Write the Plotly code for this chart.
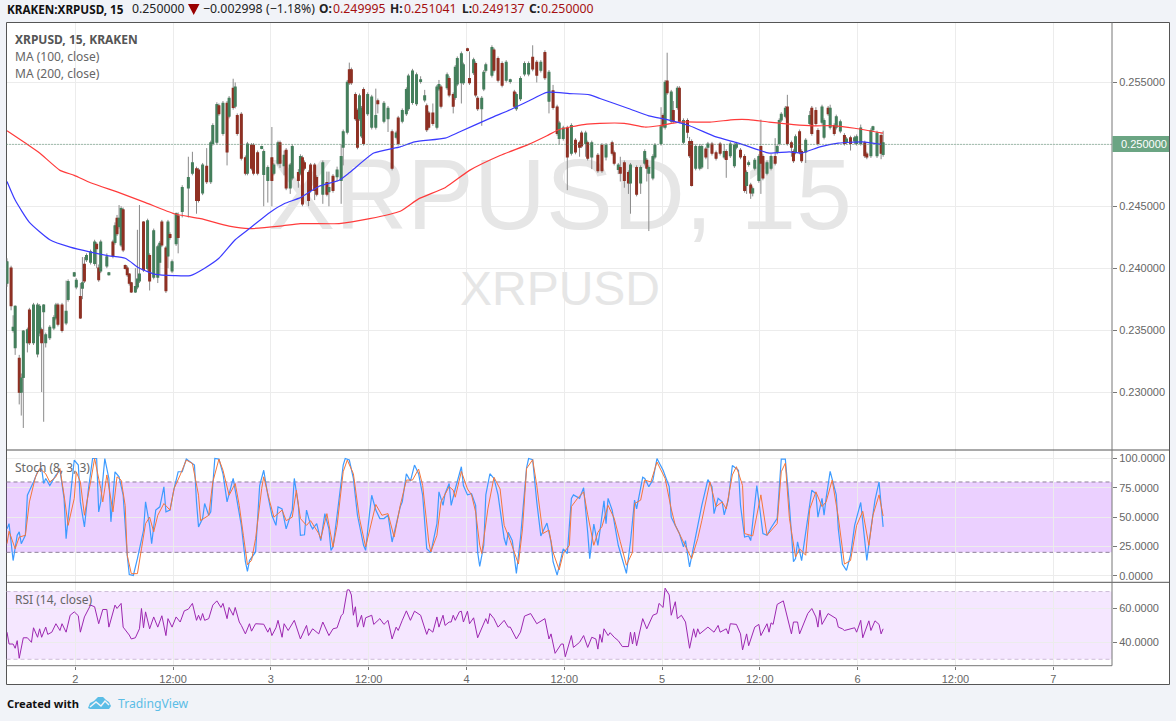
import plotly.graph_objects as go

W, H = 1176, 721
FONT = "Noto Sans"
AXF = "Liberation Sans"

# ---------- price data, in units of 0.0001 ----------
bars = [0,2,3,4,6,7,8,10,11,13, 15,16,17,18,19,21,23,24,25,27, 29,30,33,34,36,37,38,39,41,43,
 44,45,46,49,50,52,53,54,55,56, 57,58,59,60,61,63,64,65,67,69, 70,72,74,75,76,78,79,80,81,83,
 84,86,89,91,93,94,96,98,100,101, 103,104,106,108,109,111,112,113,115,117, 118,120,121,123,125,126,128,130,131,133,
 134,136,137,139,140,143,144,145,146,148, 149,151,152,155,157,158,160,162,164,165, 167,168,169,171,172,173,174,175,177,179,
 181,182,185,187,189,191,192,194,196,197, 199,201,203,205,206,207,209,211,212,213, 216,217,219,220,221,223,224,226,227,229,
 230,231,233,234,235,238,239,241,243,245, 247,249,250,252,254,256,258,260,262,264, 266,268,270,271,273,275,277,279,281,282,
 284,285,287,290,292,294,297,298,300,301, 303,305,306,309,311,313,314,315,317,318, 321,322,323,324,326,327,329,330,332,334,
 335,336,338,340,341,343,344,346,348,350, 352,353,355,357,358,360,362,363,364,365, 366,367,369,370,371,373,375,377,378,379,
 380,382,383,385,386,387,389,390,392,394, 395,397,398,400,401,403,404,406,407,409, 411,412,414,416,417,419,421,422,424,425,
 427,429,430]
opens_e4 = [2388,2400,2350,2336,2327,2300,2312,2340,2366,2340,
 2331,2348,2350,2365,2340,2344,2352,2360,2370,2370,
 2356,2375,2394,2385,2377,2384,2403,2407,2405,2404,
 2419,2400,2398,2402,2395,2421,2421,2440,2434,2419,
 2447,2402,2400,2395,2388,2381,2385,2390,2437,2400,
 2410,2393,2393,2405,2437,2416,2410,2427,2398,2420,
 2442,2446,2465,2477,2480,2479,2461,2482,2470,2501,
 2502,2531,2509,2533,2523,2545,2531,2523,2524,2489,
 2477,2499,2499,2493,2497,2476,2471,2489,2477,2485,
 2501,2483,2495,2465,2473,2477,2477,2489,2485,2477,
 2483,2483,2473,2460,2469,2462,2474,2474,2471,2498,
 2510,2560,2560,2540,2527,2521,2507,2544,2525,2514,
 2514,2535,2519,2521,2510,2506,2521,2519,2525,2529,
 2534,2533,2551,2536,2531,2525,2525,2514,2545,2546,
 2546,2553,2540,2538,2549,2550,2550,2577,2553,2558,
 2565,2537,2529,2545,2560,2556,2576,2569,2565,2552,
 2551,2542,2529,2537,2557,2557,2570,2566,2560,2574,
 2535,2543,2530,2505,2505,2513,2493,2503,2501,2509,
 2501,2501,2490,2491,2499,2490,2501,2493,2480,2481,
 2485,2477,2469,2481,2469,2485,2487,2477,2473,2490,
 2501,2523,2514,2551,2519,2527,2530,2545,2502,2519,
 2502,2502,2481,2481,2482,2496,2498,2500,2493,2500,
 2490,2494,2491,2483,2498,2495,2490,2467,2484,2467,
 2461,2481,2471,2498,2490,2477,2481,2490,2494,2501,
 2520,2523,2530,2501,2494,2494,2510,2494,2494,2517,
 2529,2527,2511,2518,2506,2529,2514,2515,2514,2511,
 2507,2502,2505,2503,2501,2501,2501,2492,2491,2512,
 2491,2507,2492]
highs_e4 = [2408,2402,2362,2370,2330,2315,2350,2352,2368,2372,
 2372,2371,2352,2371,2348,2354,2362,2372,2372,2372,
 2390,2391,2397,2392,2388,2409,2409,2412,2415,2423,
 2421,2403,2423,2412,2397,2423,2437,2443,2451,2450,
 2449,2403,2402,2396,2389,2400,2431,2451,2438,2440,
 2412,2432,2419,2422,2439,2418,2439,2429,2407,2445,
 2445,2467,2490,2494,2482,2481,2485,2497,2503,2517,
 2534,2533,2535,2535,2539,2553,2550,2525,2526,2491,
 2502,2501,2501,2495,2499,2496,2483,2514,2485,2503,
 2503,2495,2497,2485,2500,2480,2492,2491,2487,2479,
 2485,2485,2475,2487,2478,2478,2476,2482,2500,2512,
 2552,2566,2562,2542,2529,2541,2531,2546,2542,2540,
 2545,2537,2535,2531,2512,2511,2523,2529,2546,2557,
 2561,2558,2555,2544,2533,2527,2533,2548,2552,2548,
 2558,2555,2542,2564,2571,2575,2566,2578,2575,2570,
 2567,2539,2539,2560,2566,2580,2578,2571,2567,2568,
 2553,2544,2542,2555,2567,2567,2580,2568,2568,2576,
 2560,2548,2532,2519,2515,2515,2517,2505,2503,2511,
 2511,2503,2503,2493,2501,2501,2503,2495,2485,2490,
 2487,2479,2485,2483,2483,2496,2489,2483,2492,2501,
 2530,2525,2552,2574,2544,2535,2547,2547,2521,2521,
 2506,2504,2500,2500,2500,2498,2502,2502,2495,2502,
 2500,2496,2502,2501,2502,2497,2492,2479,2487,2469,
 2466,2489,2492,2520,2492,2487,2492,2505,2500,2521,
 2526,2531,2540,2503,2496,2508,2512,2496,2505,2527,
 2531,2530,2513,2532,2521,2531,2532,2517,2524,2520,
 2509,2506,2507,2507,2508,2516,2503,2494,2513,2515,
 2511,2509,2511]
lows_e4 = [2385,2366,2348,2330,2290,2281,2271,2332,2338,2338,
 2328,2345,2300,2276,2336,2342,2350,2358,2353,2348,
 2354,2373,2393,2383,2359,2375,2388,2405,2403,2402,
 2400,2389,2396,2400,2394,2408,2419,2426,2432,2417,
 2413,2399,2393,2386,2380,2380,2383,2388,2397,2398,
 2382,2391,2388,2395,2417,2380,2400,2423,2396,2418,
 2412,2441,2441,2475,2444,2453,2459,2468,2468,2499,
 2500,2523,2507,2483,2521,2528,2529,2507,2487,2475,
 2475,2479,2475,2475,2496,2450,2453,2450,2475,2483,
 2481,2475,2463,2460,2471,2465,2475,2450,2479,2450,
 2461,2455,2458,2452,2458,2450,2461,2470,2452,2483,
 2508,2548,2548,2519,2496,2519,2505,2499,2523,2512,
 2512,2525,2517,2510,2479,2504,2499,2517,2523,2527,
 2532,2531,2549,2534,2510,2512,2515,2512,2543,2529,
 2544,2538,2525,2536,2547,2533,2548,2575,2548,2556,
 2538,2527,2515,2543,2558,2554,2558,2550,2546,2550,
 2549,2529,2527,2535,2555,2555,2559,2550,2558,2552,
 2525,2528,2507,2500,2503,2463,2491,2492,2490,2497,
 2490,2487,2480,2477,2477,2487,2491,2483,2476,2470,
 2465,2460,2444,2458,2460,2483,2470,2430,2471,2488,
 2499,2513,2512,2540,2517,2517,2528,2517,2500,2505,
 2489,2466,2479,2479,2480,2488,2480,2491,2487,2491,
 2488,2473,2489,2481,2496,2488,2461,2460,2482,2456,
 2458,2479,2469,2460,2471,2475,2479,2483,2492,2499,
 2518,2521,2499,2490,2485,2492,2492,2485,2485,2515,
 2507,2515,2499,2516,2504,2523,2512,2507,2512,2509,
 2499,2500,2495,2500,2499,2499,2489,2488,2489,2510,
 2489,2488,2490]
closes_e4 = [2405,2370,2352,2369,2300,2311,2349,2350,2340,2370,
 2370,2369,2340,2370,2346,2352,2360,2370,2355,2350,
 2365,2389,2396,2390,2360,2388,2390,2410,2413,2421,
 2416,2391,2421,2409,2396,2410,2434,2428,2440,2448,
 2415,2400,2395,2388,2381,2385,2391,2395,2399,2438,
 2390,2430,2417,2420,2419,2382,2437,2425,2405,2444,
 2425,2465,2473,2485,2455,2455,2483,2470,2501,2515,
 2532,2525,2533,2494,2537,2530,2546,2509,2489,2477,
 2500,2481,2477,2477,2498,2494,2481,2471,2483,2501,
 2485,2491,2465,2483,2498,2471,2490,2452,2481,2455,
 2463,2463,2460,2485,2460,2465,2463,2479,2490,2510,
 2550,2550,2550,2521,2498,2539,2529,2501,2540,2538,
 2523,2533,2533,2529,2481,2509,2501,2527,2544,2555,
 2559,2556,2552,2539,2512,2514,2517,2546,2548,2531,
 2556,2540,2531,2562,2569,2573,2564,2576,2550,2568,
 2540,2529,2537,2558,2564,2578,2560,2552,2548,2566,
 2552,2531,2540,2553,2565,2565,2561,2556,2566,2554,
 2558,2530,2509,2517,2513,2490,2515,2494,2498,2499,
 2509,2489,2501,2479,2479,2499,2493,2485,2483,2477,
 2471,2469,2483,2460,2481,2494,2481,2481,2490,2499,
 2514,2515,2550,2542,2542,2519,2545,2519,2519,2510,
 2491,2467,2498,2498,2498,2490,2500,2493,2489,2493,
 2494,2488,2500,2499,2500,2490,2463,2477,2485,2461,
 2464,2487,2490,2485,2473,2485,2490,2485,2498,2519,
 2524,2529,2501,2498,2487,2506,2494,2487,2503,2523,
 2509,2517,2501,2530,2519,2525,2529,2509,2522,2518,
 2501,2504,2501,2505,2506,2513,2491,2490,2511,2514,
 2509,2493,2501]

ma100_bars = [0,4,11,21,31,41,50,58,65,73,82,90,97,104,112,119,129,136,144,153,163,168,180,193,200,215,222,237,247,256,265,276,286,291,305,315,324,335,348,359,368,374,384,390,399,408,420,429]
ma100_e4 = [2470,2455,2437,2423,2417,2413,2410,2408,2400,2395,2394,2394,2400,2408,2423,2432,2445,2452,2457,2466,2471,2477,2493,2498,2502,2505,2510,2521,2528,2535,2542,2541,2540,2537,2529,2523,2520,2515,2506,2501,2496,2493,2494,2493,2498,2501,2502,2500]
ma200_bars = [0,9,16,26,33,41,55,68,82,95,109,119,134,144,163,178,193,202,215,227,242,256,265,271,283,291,303,313,320,330,345,357,364,374,386,396,406,416,430]
ma200_e4 = [2511,2501,2493,2479,2475,2469,2461,2453,2444,2440,2434,2432,2434,2436,2436,2440,2446,2456,2465,2479,2491,2500,2507,2512,2516,2517,2517,2514,2515,2518,2518,2520,2520,2518,2516,2515,2515,2513,2509]

stoch_k_bars = [0,1,3,5,6,7,9,10,13,15,17,18,19,21,24,26,28,29,31,33,35,36,38,40,42,44,45,46,48,50,51,53,55,57,59,60,62,64,67,68,70,71,73,75,77,78,80,82,84,86,88,90,92,93,94,96,97,99,100,102,104,106,108,111,113,115,117,118,119,121,122,124,126,128,130,132,133,135,137,140,141,143,144,146,147,149,150,152,154,156,158,159,160,162,165,166,168,170,172,175,176,178,179,181,183,185,187,189,191,193,194,196,198,200,202,204,206,208,211,212,214,215,217,
 218,220,222,223,224,226,228,230,231,232,234,235,237,239,241,244,245,246,248,250,252,255,256,258,260,262,265,267,268,270,273,275,277,278,281,283,285,286,288,290,291,293,294,295,297,300,304,306,308,309,312,313,315,317,319,322,325,326,328,330,332,333,335,338,341,344,346,347,349,351,352,354,356,359,360,362,364,365,368,371,373,375,378,380,382,384,386,387,388,390,393,395,397,398,400,401,402,404,407,408,410,412,414,416,419,422,424,426,428,430]
stoch_k = [40,44.5,13,34.5,37.4,27.4,34.5,68.7,80,88.7,91.5,78.7,83,77,85.8,90,66,31.7,66,98.7,94.4,63,41.7,74.4,100,100,54.5,63,100,83,46,88.7,84.4,68.7,17.5,1,0.3,14.6,38.8,63,43,27.4,56,58.8,75.9,54.5,56,74.4,88.7,88.7,99.5,97,94.4,63,41.7,48.8,61.6,51.6,54.5,100,99.5,87,63,83,63,43,12,3.8,13,17.5,20.3,77,90,68.7,51.6,43,58.8,57,40,56,83,60,34.5,35,56,43,40,44.5,30,53,40,21.7,24.6,51.6,94.4,100,98.7,83,51.6,26,21.7,54.5,68.7,56,48.8,48.8,51.6,28.8,43,58.8,63,87,80.7,94.4,87,68.7,23,19.7,44.5,71.6,60,70,78.7,
 60,74,87,93,77,69,70,60,20,8,26,69,87,83,69,32,26,37,30,2,32,92,100,99,63,34,45,29,12,0.5,23,19,66,69,66,75,37,14.6,44,26,38,64,44.5,66,56,26,2,29,64.5,57,84,83,76,81.6,100,90,76,50,43,36,24.6,30,7.5,33,60,82,76,53,66,63,52,64.5,94,90,60,33,34,30,77,36,34.5,41,49,99.5,99.5,60,12,14.6,29,13,51.6,73,70,50,66,51.6,66,89,69,40,10,4.6,17.5,43,62.5,13,40,64.5,80,41.7]
stoch_d_bars = [0,1,4,6,9,11,14,16,19,21,24,26,28,30,33,34,36,38,41,43,46,47,49,52,54,56,58,59,61,64,66,68,70,72,74,77,80,82,85,88,91,94,95,99,101,104,106,109,112,114,116,118,120,122,125,126,129,131,135,137,140,142,144,147,149,153,154,157,160,162,165,167,170,173,176,179,181,184,187,190,193,196,199,202,204,207,208,211,213,217,
 219,220,223,226,228,230,232,233,236,239,242,244,247,251,253,255,258,260,263,266,268,271,273,276,277,280,283,285,288,290,292,295,298,301,304,307,308,311,313,316,319,323,326,328,331,334,336,339,341,345,348,351,353,356,358,361,362,366,370,373,378,380,382,384,387,389,392,394,397,400,402,405,408,411,414,417,420,423,425,428,430]
stoch_d = [27.4,38,23,33,34.5,63,84.4,91.5,87,80,84.4,91.5,68.7,43,66,88.7,80,51.6,80,100,74.4,63,86,54.5,84.4,81.6,60,17.5,1.8,1.8,23,44.5,50,37.4,51.6,61.6,56,74.4,86,98.7,95.8,68.7,47,51.6,80,99.5,90,68.7,78.7,60,34.5,9.5,13,31.7,74.4,84.4,63,50,56,47,50,73,48.8,43,47,36,31.7,53,24.6,43,88.7,98.7,87,48.8,24.6,47,60.8,51.6,53,33,60,81.6,81.6,91,77,28.8,20.3,34.5,63,76,
 73,67,89,74,69,54.5,26,19,57,84,74,43,30,10,40,91.5,99,77,36,39,20,5,19,26,59,66,71.6,52,26,37,42,60,49,29,9,20,61.6,64.5,81.6,80,97,83,57,43,31.7,21.7,14.6,31.7,47,80,59,63,57,86,93,77,36,34,69,34.5,44.5,88.7,96,49,16,23,17.5,57,71.6,59,63,81.6,50,10,13,43,55,26,51.6,69,51]

rsi_bars = [0,1,3,4,5,6,8,10,12,13,15,16,17,19,20,22,24,26,27,29,31,33,35,36,38,41,43,45,47,49,50,53,54,56,57,60,61,63,65,66,67,68,70,72,74,76,78,79,81,83,85,87,89,91,93,94,95,96,97,99,101,103,105,106,108,109,111,112,114,115,117,119,120,122,126,128,129,130,132,133,135,136,138,141,144,147,148,150,153,155,158,160,162,164,165,167,168,169,170,171,172,174,175,176,179,180,183,185,187,189,191,192,194,196,198,200,203,206,207,209,211,212,214,215,217,
 218,219,220,222,223,224,226,227,229,231,233,235,236,237,239,241,244,246,247,250,252,254,257,259,260,264,266,267,269,272,273,274,277,278,281,283,285,287,289,290,291,292,293,295,296,298,300,302,305,306,307,308,309,312,314,317,319,320,322,323,325,326,328,329,331,333,335,337,338,339,340,344,347,349,350,353,354,355,358,360,361,363,364,367,369,370,373,374,375,376,378,381,384,385,386,388,389,393,395,397,398,399,400,403,407,408,410,411,416,417,419,420,423,424,426,428,429,430]
rsi_vals = [46,39,39,36.5,41,30.6,42.7,42.7,40,48.6,43,48,43,49,44.7,46,51,47,51,46,56,58,55.7,46,55,62,61,51,59.4,59.4,49,62,60,63,49,44.3,42,42.7,48,60,48.6,58,48,55,49,55.7,44,54,49,55,52,58.6,59.6,63,53,56,53,57,53,54,62,64.5,60.6,63,54,60.6,56,60.6,52,50,45,51,46.6,51,50.7,46,48.6,44,48.6,53,43,51,47,53,42,50,44,48,45,52,44,48,48.6,55.7,57,71,71,68,56,61,49,56,49,54.5,56,50.6,54,50.6,53,42,49,47,53,58.6,53,58.4,56,44.7,48,46,55,49,56,50,52,
 52,56,53,58,58.4,52,58.4,51,54.5,42.7,48,54,51,57,54,49,53,49,49,42,46,55.5,57,53,51,54,42,45,33.5,39,39,31.5,44,37,40,44,37,43,42,36,44.7,40,48,44,45.7,43,41,37.5,37.5,46,39,46,38,54,48,56,57,63,60.6,72,68,56,64,54,56,52,36.5,48,43,48,45,49,46,50,46,48,45,51,50.6,45,35.5,45,38,49,50.6,44,51,46,51.5,50.6,62.4,64.5,51,45,52,52,45,57,60,55,49,59,50.6,57,54,49,48,47,48.6,46,53,42.7,52.7,47,52.7,50.6,45,48]
assert len(opens_e4)==len(bars)==len(highs_e4)==len(lows_e4)==len(closes_e4)
assert len(ma100_bars)==len(ma100_e4) and len(ma200_bars)==len(ma200_e4)
assert len(stoch_k_bars)==len(stoch_k), (len(stoch_k_bars),len(stoch_k))
assert len(stoch_d_bars)==len(stoch_d), (len(stoch_d_bars),len(stoch_d))
assert len(rsi_bars)==len(rsi_vals), (len(rsi_bars),len(rsi_vals))

last_price = 0.25
price_ticks = [0.23, 0.235, 0.24, 0.245, 0.25, 0.255]
price_labels = ["0.230000", "0.235000", "0.240000", "0.245000", "", "0.255000"]
stoch_ticks = [0, 25, 50, 75, 100]
stoch_labels = ["0.0000", "25.0000", "50.0000", "75.0000", "100.0000"]
rsi_ticks = [40, 60]
rsi_labels = ["40.0000", "60.0000"]
time_ticks = [33.5, 81.5, 129.5, 177.5, 225.5, 273.5, 321.5, 369.5, 417.5, 465.5, 513.5]
time_labels = ["2", "12:00", "3", "12:00", "4", "12:00", "5", "12:00", "6", "12:00", "7"]

opens = [v / 1e4 for v in opens_e4]
highs = [v / 1e4 for v in highs_e4]
lows = [v / 1e4 for v in lows_e4]
closes = [v / 1e4 for v in closes_e4]
body_hi = [max(a, b) for a, b in zip(opens, closes)]
body_lo = [min(a, b) for a, b in zip(opens, closes)]

def px(x): return x / W
def py(y): return 1 - y / H
L, R = 6.5, 1112
XR = [-0.25, -0.25 + (R - L) / 2.0375]
GRID = "#ececec"

fig = go.Figure()
fig.add_trace(go.Scatter(x=[271.4], y=[0.24516], mode="text", text=["XRPUSD, 15"], xaxis="x", yaxis="y",
                         textfont=dict(family=AXF, size=100, color="#e6e6e6"), hoverinfo="skip", showlegend=False, cliponaxis=False))
fig.add_trace(go.Scatter(x=[271.4], y=[0.23798], mode="text", text=["XRPUSD"], xaxis="x", yaxis="y",
                         textfont=dict(family=AXF, size=48, color="#e6e6e6"), hoverinfo="skip", showlegend=False, cliponaxis=False))

wick = "#8a8a8a"
fig.add_trace(go.Candlestick(x=bars, open=opens, high=highs, low=lows, close=closes, xaxis="x2", yaxis="y2", whiskerwidth=0,
                             increasing=dict(line=dict(color=wick, width=1), fillcolor=wick),
                             decreasing=dict(line=dict(color=wick, width=1), fillcolor=wick),
                             hoverinfo="skip", showlegend=False))
fig.add_trace(go.Candlestick(x=bars, open=opens, high=body_hi, low=body_lo, close=closes, xaxis="x2", yaxis="y2", whiskerwidth=0,
                             increasing=dict(line=dict(color="#447f5c", width=1.6), fillcolor="#528f6b"),
                             decreasing=dict(line=dict(color="#8f3023", width=1.6), fillcolor="#ab3a2b"),
                             hoverinfo="skip", showlegend=False))
fig.add_trace(go.Scatter(x=ma200_bars, y=[v / 1e4 for v in ma200_e4], mode="lines", xaxis="x2", yaxis="y2",
                         line=dict(color="#ff3b3b", width=1.2, shape="spline", smoothing=0.5), hoverinfo="skip", showlegend=False))
fig.add_trace(go.Scatter(x=ma100_bars, y=[v / 1e4 for v in ma100_e4], mode="lines", xaxis="x2", yaxis="y2",
                         line=dict(color="#3b3bff", width=1.2, shape="spline", smoothing=0.5), hoverinfo="skip", showlegend=False))
fig.add_trace(go.Scatter(x=stoch_k_bars, y=stoch_k, mode="lines", xaxis="x3", yaxis="y3",
                         line=dict(color="#3d9bff", width=1.2), hoverinfo="skip", showlegend=False))
fig.add_trace(go.Scatter(x=stoch_d_bars, y=stoch_d, mode="lines", xaxis="x3", yaxis="y3",
                         line=dict(color="#f5763a", width=1), hoverinfo="skip", showlegend=False))
fig.add_trace(go.Scatter(x=rsi_bars, y=rsi_vals, mode="lines", xaxis="x4", yaxis="y4",
                         line=dict(color="#9c27b0", width=1), hoverinfo="skip", showlegend=False))

xcommon = dict(range=XR, domain=[px(L), px(R)], tickmode="array", tickvals=time_ticks, showgrid=True,
               gridcolor=GRID, gridwidth=1, zeroline=False, showline=False, fixedrange=True, rangeslider=dict(visible=False))
axf = dict(family=AXF, size=11, color="#666666")
ycommon = dict(side="right", showgrid=True, gridcolor=GRID, gridwidth=1, zeroline=False, showline=False, fixedrange=True,
               tickmode="array", ticks="outside", ticklen=4, tickcolor="#777777", tickfont=axf)
dom_main = [py(450), py(22.5)]
dom_st = [py(582.3), py(450)]
dom_rsi = [py(665.7), py(582.3)]
yr_main = [0.22532, 0.25984]
fig.update_layout(
    width=W, height=H, margin=dict(l=0, r=0, t=0, b=0), autosize=False,
    paper_bgcolor="#f1f3f8", plot_bgcolor="rgba(0,0,0,0)", boxgap=0.05, showlegend=False,
    xaxis=dict(**xcommon, showticklabels=False, anchor="y"),
    yaxis=dict(**ycommon, range=yr_main, domain=dom_main, tickvals=price_ticks, ticktext=price_labels, anchor="x"),
    xaxis2=dict(range=XR, domain=[px(L), px(R)], visible=False, overlaying="x", anchor="y2", fixedrange=True, rangeslider=dict(visible=False)),
    yaxis2=dict(range=yr_main, domain=dom_main, visible=False, overlaying="y", anchor="x2", fixedrange=True),
    xaxis3=dict(**xcommon, showticklabels=False, anchor="y3"),
    yaxis3=dict(**ycommon, range=[-5.56, 107.26], domain=dom_st, tickvals=stoch_ticks, ticktext=stoch_labels, anchor="x3"),
    xaxis4=dict(**xcommon, showticklabels=True, ticktext=time_labels, tickfont=axf, ticks="outside", ticklen=3, tickcolor="#777777", anchor="y4"),
    yaxis4=dict(**ycommon, range=[26.2, 75.47], domain=dom_rsi, tickvals=rsi_ticks, ticktext=rsi_labels, anchor="x4"),
)

def pline(x0, y0, x1, y1, color, w=1, dash=None):
    return dict(type="line", xref="paper", yref="paper", x0=px(x0), x1=px(x1), y0=py(y0), y1=py(y1),
                line=dict(color=color, width=w, dash=dash or "solid"), layer="above")

def ppath(pts, fill, line=None):
    d = "M " + " L ".join(f"{px(a):.5f},{py(b):.5f}" for a, b in pts) + (" Z" if fill else "")
    return dict(type="path", xref="paper", yref="paper", path=d, fillcolor=fill or "rgba(0,0,0,0)",
                line=dict(color=line or "rgba(0,0,0,0)", width=1.5 if line else 0), layer="above")

shapes = [
    dict(type="rect", xref="paper", yref="paper", x0=px(6.5), x1=px(1169.5), y0=py(684.5), y1=py(22.5),
         fillcolor="#ffffff", line=dict(color="#555555", width=1), layer="below"),
    dict(type="rect", xref="paper", yref="y3", x0=px(L), x1=px(R), y0=20, y1=80, fillcolor="rgba(153,21,255,0.2)",
         line=dict(width=0), layer="below"),
    dict(type="rect", xref="paper", yref="y4", x0=px(L), x1=px(R), y0=30, y1=70, fillcolor="rgba(153,21,255,0.1)",
         line=dict(width=0), layer="below"),
]
for yv in (20, 80):
    shapes.append(dict(type="line", xref="paper", yref="y3", x0=px(L), x1=px(R), y0=yv, y1=yv,
                       line=dict(color="#8f8199", width=1, dash="4px,3px"), layer="below"))
for yv in (30, 70):
    shapes.append(dict(type="line", xref="paper", yref="y4", x0=px(L), x1=px(R), y0=yv, y1=yv,
                       line=dict(color="#cdbcd8", width=1, dash="4px,3px"), layer="below"))
shapes.append(dict(type="line", xref="paper", yref="y", x0=px(L), x1=px(R), y0=last_price, y1=last_price,
                   line=dict(color="#4f8a69", width=1, dash="1px,2px"), layer="above"))
shapes += [
    pline(6.5, 450, 1169.5, 450, "#555555"),
    pline(6.5, 582.3, 1169.5, 582.3, "#555555"),
    pline(6.5, 665.7, 1112, 665.7, "#777777"),
    pline(1112, 22.5, 1112, 665.7, "#777777"),
    dict(type="rect", xref="paper", yref="paper", x0=px(1112.5), x1=px(1169), y0=py(152), y1=py(136),
         fillcolor="#6ba583", line=dict(width=0), layer="above"),
    ppath([(188, 4), (199.5, 4), (193.7, 15)], "#990000"),
    ppath([(88, 708), (90, 703), (94, 701), (98, 697), (103, 697), (106, 700), (109, 702), (111, 706), (109, 709), (90, 709)], "#5bbde6"),
    ppath([(90, 707), (96, 702), (101, 706), (105, 701), (109, 705)], None, "#f1f3f8"),
]
fig.update_layout(shapes=shapes)

def txt(x, y, s, size=12, color="#000", bold=False, fam=FONT):
    return dict(xref="paper", yref="paper", x=px(x), y=py(y), xanchor="left", yanchor="middle", showarrow=False, xshift=-2,
                text=f"<b>{s}</b>" if bold else s, font=dict(family=fam, size=size, color=color))

red = "#a50f0f"
ann = [
    txt(7, 9, "KRAKEN:XRPUSD, 15", 11.7, "#111", True),
    txt(132, 9, "0.250000", 12.3, "#222"),
    txt(203, 9, "−0.002998", 12.3, "#222"),
    txt(266, 9, "(−1.18%)", 12.3, "#222"),
    txt(319, 9, "O:", 12, "#222", True),
    txt(333, 9, "0.249995", 12.3, red),
    txt(390, 9, "H:", 12, "#222", True),
    txt(404, 9, "0.251041", 12.3, red),
    txt(462, 9, "L:", 12, "#222", True),
    txt(472, 9, "0.249137", 12.3, red),
    txt(529, 9, "C:", 12, "#222", True),
    txt(541, 9, "0.250000", 12.3, red),
    txt(15, 39.5, "XRPUSD, 15, KRAKEN", 12, "#555", True),
    txt(15, 57, "MA (100, close)", 12, "#666"),
    txt(15, 73.5, "MA (200, close)", 12, "#666"),
    txt(15, 467.5, "Stoch (8, 3, 3)", 12, "#666"),
    txt(15, 599.5, "RSI (14, close)", 12, "#666"),
    txt(7, 703, "Created with", 11.2, "#111", True),
    txt(118, 703, "TradingView", 12.2, "#5bbde6"),
    txt(1121, 144, "0.250000", 11, "#ffffff", False, AXF),
]
fig.update_layout(annotations=ann)

fig.write_html("out.html", config=dict(displayModeBar=False, responsive=False),
               post_script="document.body.style.margin='0';document.body.style.background='#f1f3f8';document.documentElement.style.overflow='hidden';")
